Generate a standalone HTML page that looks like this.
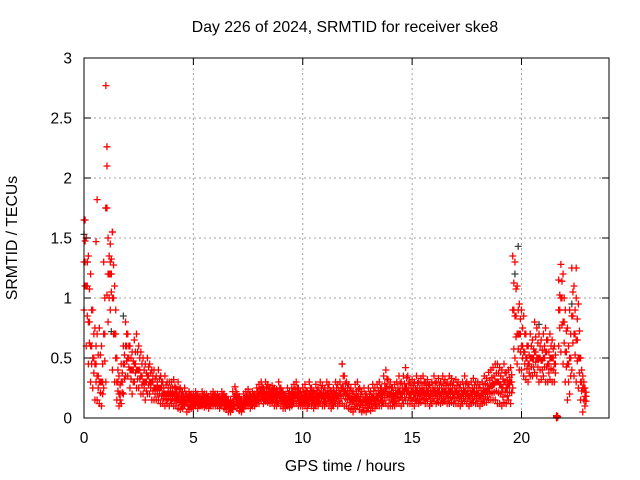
<!DOCTYPE html>
<html><head><meta charset="utf-8"><style>
body{margin:0;background:#fff;}
svg{display:block;font-family:"Liberation Sans",sans-serif;}
</style></head><body>
<svg id="chart" width="640" height="480">
<rect width="640" height="480" fill="#fff"/>
<text x="345" y="32" font-size="15.8" text-anchor="middle">Day 226 of 2024, SRMTID for receiver ske8</text>
<text x="345" y="471" font-size="15.8" text-anchor="middle">GPS time / hours</text>
<text x="17" y="238" font-size="15.8" text-anchor="middle" transform="rotate(-90 17 238)">SRMTID / TECUs</text>
<g id="grid"></g><g id="marks"></g><g id="axes"></g>
</svg>
<script>
const xTicks=[0,5,10,15,20];
const yTicks=[0,0.5,1,1.5,2,2.5,3];
const yTickLabels=["0","0.5","1","1.5","2","2.5","3"];
const hi=[1.65,1.5,1.35,1.2,0.9,0.75,0.7,0.75,0.6,1.3,
2.77,1.5,1.45,1.55,1.1,0.5,0.35,0.45,0.6,0.8,
0.7,0.6,0.55,0.65,0.7,0.6,0.55,0.5,0.45,0.5,
0.45,0.4,0.4,0.35,0.4,0.35,0.3,0.35,0.3,0.3,
0.3,0.32,0.25,0.3,0.25,0.22,0.25,0.2,0.22,0.2,
0.2,0.22,0.2,0.18,0.22,0.2,0.2,0.18,0.2,0.22,
0.2,0.2,0.18,0.22,0.2,0.18,0.15,0.15,0.22,0.26,
0.2,0.18,0.15,0.2,0.22,0.24,0.2,0.22,0.2,0.25,
0.28,0.3,0.25,0.3,0.28,0.25,0.27,0.25,0.24,0.3,
0.25,0.22,0.2,0.25,0.22,0.25,0.28,0.3,0.25,0.22,
0.25,0.28,0.22,0.3,0.25,0.22,0.28,0.25,0.3,0.27,
0.25,0.3,0.28,0.22,0.25,0.3,0.28,0.3,0.45,0.35,
0.3,0.28,0.25,0.22,0.28,0.3,0.25,0.22,0.25,0.2,
0.25,0.22,0.28,0.25,0.28,0.3,0.25,0.35,0.4,0.32,
0.3,0.25,0.28,0.3,0.35,0.3,0.35,0.42,0.35,0.3,
0.32,0.3,0.35,0.3,0.33,0.35,0.3,0.32,0.28,0.3,
0.35,0.3,0.33,0.3,0.35,0.32,0.3,0.35,0.33,0.3,
0.32,0.3,0.28,0.3,0.35,0.3,0.28,0.3,0.33,0.3,
0.3,0.28,0.3,0.35,0.33,0.38,0.4,0.42,0.45,0.45,
0.42,0.4,0.45,0.38,0.4,0.42,1.35,1.3,1.1,0.95,
0.9,0.85,0.7,0.6,0.7,0.65,0.8,0.75,0.7,0.65,
0.7,0.75,0.65,0.7,0.65,0.6,0.02,1.15,1.28,1.2,
0.9,0.75,0.9,1.25,1.1,1.0,0.95,0.5,0.35,0.25];
const mid=[1.3,1.1,0.8,0.6,0.5,0.45,0.35,0.3,0.3,0.7,
1.75,1.2,1.2,1.0,0.7,0.3,0.2,0.3,0.45,0.6,
0.5,0.4,0.4,0.45,0.4,0.4,0.35,0.3,0.3,0.35,
0.3,0.3,0.25,0.25,0.25,0.25,0.2,0.2,0.2,0.2,
0.2,0.2,0.18,0.18,0.15,0.15,0.15,0.15,0.15,0.13,
0.15,0.15,0.13,0.13,0.15,0.14,0.14,0.13,0.15,0.15,
0.15,0.14,0.13,0.15,0.14,0.12,0.1,0.1,0.14,0.18,
0.14,0.12,0.1,0.13,0.15,0.16,0.14,0.15,0.14,0.18,
0.2,0.22,0.18,0.2,0.2,0.18,0.2,0.18,0.17,0.2,
0.18,0.15,0.14,0.16,0.15,0.17,0.2,0.2,0.17,0.15,
0.17,0.18,0.15,0.2,0.17,0.15,0.18,0.17,0.2,0.18,
0.17,0.2,0.18,0.15,0.17,0.2,0.18,0.2,0.25,0.22,
0.2,0.18,0.16,0.14,0.17,0.18,0.15,0.13,0.15,0.13,
0.15,0.14,0.17,0.15,0.18,0.2,0.17,0.22,0.25,0.2,
0.2,0.17,0.18,0.2,0.22,0.2,0.22,0.25,0.22,0.2,
0.22,0.2,0.23,0.2,0.22,0.23,0.2,0.22,0.18,0.2,
0.23,0.2,0.22,0.2,0.22,0.22,0.2,0.22,0.22,0.2,
0.22,0.2,0.18,0.2,0.22,0.2,0.18,0.2,0.22,0.2,
0.2,0.18,0.2,0.22,0.22,0.25,0.27,0.28,0.3,0.3,
0.28,0.25,0.3,0.25,0.28,0.3,0.9,0.85,0.7,0.7,
0.6,0.55,0.5,0.45,0.5,0.5,0.55,0.5,0.5,0.48,
0.5,0.55,0.45,0.5,0.5,0.45,0.01,0.9,1.0,0.8,
0.55,0.45,0.5,0.85,0.7,0.65,0.5,0.3,0.25,0.18];
const lo=[0.9,0.6,0.45,0.3,0.25,0.15,0.15,0.12,0.1,0.25,
0.3,0.8,0.9,0.4,0.3,0.15,0.1,0.12,0.2,0.35,
0.35,0.25,0.2,0.3,0.25,0.25,0.2,0.2,0.15,0.2,
0.2,0.15,0.15,0.15,0.15,0.12,0.12,0.1,0.12,0.1,
0.12,0.1,0.1,0.08,0.07,0.08,0.1,0.05,0.07,0.08,
0.08,0.1,0.08,0.1,0.1,0.09,0.1,0.08,0.1,0.1,
0.1,0.1,0.08,0.1,0.08,0.07,0.05,0.05,0.07,0.1,
0.08,0.06,0.05,0.08,0.1,0.1,0.08,0.1,0.1,0.12,
0.12,0.15,0.12,0.14,0.13,0.12,0.13,0.1,0.1,0.12,
0.1,0.08,0.08,0.1,0.09,0.1,0.12,0.12,0.1,0.1,
0.1,0.1,0.08,0.12,0.1,0.08,0.1,0.1,0.12,0.1,
0.1,0.12,0.1,0.08,0.1,0.12,0.1,0.12,0.12,0.1,
0.1,0.08,0.07,0.05,0.08,0.1,0.07,0.05,0.06,0.05,
0.08,0.06,0.08,0.08,0.1,0.1,0.1,0.12,0.12,0.1,
0.1,0.1,0.1,0.12,0.12,0.1,0.12,0.15,0.12,0.12,
0.12,0.1,0.14,0.12,0.13,0.15,0.12,0.14,0.1,0.12,
0.14,0.12,0.13,0.12,0.13,0.14,0.12,0.12,0.13,0.12,
0.12,0.12,0.1,0.12,0.14,0.12,0.1,0.12,0.13,0.12,
0.12,0.1,0.12,0.13,0.13,0.15,0.15,0.15,0.15,0.12,
0.12,0.1,0.13,0.12,0.15,0.12,0.25,0.5,0.45,0.4,
0.4,0.35,0.32,0.3,0.35,0.35,0.38,0.35,0.3,0.32,
0.35,0.3,0.3,0.32,0.3,0.3,0.0,0.6,0.55,0.45,
0.3,0.15,0.2,0.4,0.35,0.3,0.25,0.15,0.05,0.1];
const outT=[1.05,1.0,0.6,0.05,0.55,1.3,22.5,0.15,1.2];
const outV=[2.1,1.75,1.82,1.65,1.47,1.55,1.25,1.3,1.3];
const darkT=[1.8,19.85,19.7,20.8,11.8,0.0,22.3,3.5,1.25,20.3];
const darkV=[0.85,1.43,1.2,0.78,0.45,1.53,0.95,0.35,0.72,0.6];

const L=84,R=609,T=58,B=418,XMAX=24,YMAX=3;
const sx=v=>L+v/XMAX*(R-L);
const sy=v=>B-v/YMAX*(B-T);
const NS='http://www.w3.org/2000/svg';
function mk(tag,parent){const e=document.createElementNS(NS,tag);parent.appendChild(e);return e;}
const grid=document.getElementById('grid'),marks=document.getElementById('marks'),axes=document.getElementById('axes');
yTicks.forEach((v,i)=>{
  const y=sy(v);
  if(v>0&&v<YMAX){const g=mk('line',grid);g.setAttribute('x1',L);g.setAttribute('x2',R);g.setAttribute('y1',y);g.setAttribute('y2',y);g.setAttribute('stroke','#a0a0a0');g.setAttribute('stroke-dasharray','2,3');
  
  }
  const t=mk('line',axes);t.setAttribute('x1',L);t.setAttribute('x2',L+7);t.setAttribute('y1',y);t.setAttribute('y2',y);t.setAttribute('stroke','#000');
  
  
  const t2=mk('line',axes);t2.setAttribute('x1',R);t2.setAttribute('x2',R-7);t2.setAttribute('y1',y);t2.setAttribute('y2',y);t2.setAttribute('stroke','#000');
  
  
  const l=mk('text',axes);l.setAttribute('x',72);l.setAttribute('y',y+5.5);l.setAttribute('text-anchor','end');l.setAttribute('font-size','15.5');l.textContent=yTickLabels[i];
  
  
});
xTicks.forEach(v=>{
  const x=sx(v);
  if(v>0){const g=mk('line',grid);g.setAttribute('x1',x);g.setAttribute('x2',x);g.setAttribute('y1',T);g.setAttribute('y2',B);g.setAttribute('stroke','#a0a0a0');g.setAttribute('stroke-dasharray','2,3');
  
  }
  const t=mk('line',axes);t.setAttribute('x1',x);t.setAttribute('x2',x);t.setAttribute('y1',B);t.setAttribute('y2',B-7);t.setAttribute('stroke','#000');
  
  
  const t2=mk('line',axes);t2.setAttribute('x1',x);t2.setAttribute('x2',x);t2.setAttribute('y1',T);t2.setAttribute('y2',T+7);t2.setAttribute('stroke','#000');
  
  
  const l=mk('text',axes);l.setAttribute('x',x);l.setAttribute('y',443);l.setAttribute('text-anchor','middle');l.setAttribute('font-size','15.5');l.textContent=String(v);
  
  
});
const frame=mk('rect',axes);frame.setAttribute('x',L);frame.setAttribute('y',T);frame.setAttribute('width',R-L);frame.setAttribute('height',B-T);frame.setAttribute('fill','none');frame.setAttribute('stroke','#000');


function cross(t,v,color,name){
  const x=sx(t),y=sy(v);
  const p=mk('path',marks);p.setAttribute('d',`M${x-3.5},${y}H${x+3.5}M${x},${y-3.5}V${y+3.5}`);p.setAttribute('stroke',color);p.setAttribute('stroke-width','1.3');
  
  
}
darkT.forEach((t,i)=>cross(t,darkV[i],'#404040','dark-point'));
[lo,mid,hi].forEach(arr=>arr.forEach((v,i)=>{cross(i/10,v,'#ff0000','red-point');cross(i/10+0.05,(v+mid[i])/2,'#ff0000','red-point');}));
outT.forEach((t,i)=>cross(t,outV[i],'#ff0000','red-outlier'));
</script>
</body></html>
